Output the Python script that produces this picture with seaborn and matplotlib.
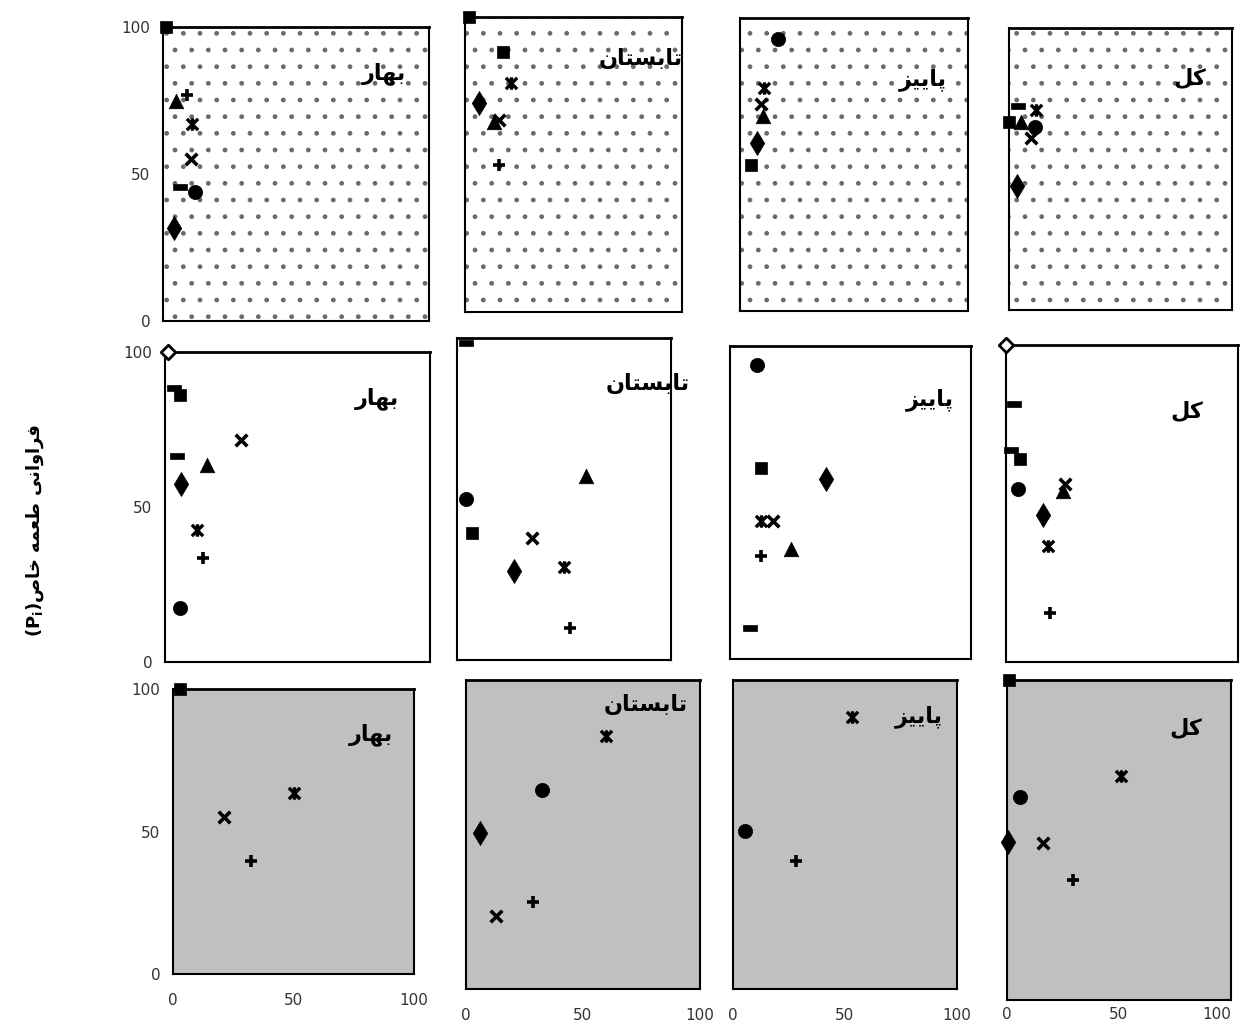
"""
Prey-frequency panels: three groups x four seasons, one marker per prey type.
"""
import pandas as pd
import seaborn as sns
from matplotlib import pyplot as plt
from matplotlib.path import Path
from matplotlib.patches import Rectangle

SEASONS = ['بهار', 'تابستان', 'پاییز', 'کل']
Y_LABEL = 'فراوانی طعمه خاص'
TICKS = [0, 50, 100]

# row 1 (dotted panels)
r1_panel = [0, 0, 0, 0, 0, 0, 0, 0,
            1, 1, 1, 1, 1, 1, 1,
            2, 2, 2, 2, 2, 2,
            3, 3, 3, 3, 3, 3, 3]
r1_series = ['corner', 'triangle', 'plus', 'star', 'cross', 'dash', 'circle', 'diamond',
             'corner', 'square', 'star', 'diamond', 'triangle', 'cross', 'plus',
             'circle', 'star', 'cross', 'triangle', 'diamond', 'square',
             'dash', 'star', 'square', 'triangle', 'circle', 'cross', 'diamond']
r1_x = [1, 5, 9, 11, 10.5, 6.5, 12, 4,
        2, 17.5, 21, 6.5, 13.5, 15.5, 15.5,
        16.5, 10.5, 9, 10, 7.5, 5,
        4, 12, 0, 5.5, 11.5, 10, 3.5]
r1_y = [100, 75, 77, 67, 55, 45.5, 44, 31.5,
        100, 88, 77.5, 71, 64.5, 65, 50,
        93, 76, 70.5, 66.5, 57.5, 50,
        72.5, 71, 66.5, 66.5, 65, 61, 44]

# row 2 (white panels)
r2_panel = [0, 0, 0, 0, 0, 0, 0, 0, 0, 0,
            1, 1, 1, 1, 1, 1, 1, 1,
            2, 2, 2, 2, 2, 2, 2, 2,
            3, 3, 3, 3, 3, 3, 3, 3, 3, 3]
r2_series = ['open', 'dash', 'square', 'cross', 'dash', 'triangle', 'diamond', 'star', 'plus', 'circle',
             'dash', 'triangle', 'circle', 'square', 'cross', 'star', 'diamond', 'plus',
             'circle', 'square', 'diamond', 'star', 'cross', 'triangle', 'plus', 'dash',
             'open', 'dash', 'dash', 'square', 'circle', 'triangle', 'cross', 'diamond', 'star', 'plus']
r2_x = [1, 3.5, 5.5, 28.5, 4.5, 16, 6, 12, 14.5, 5.5,
        4, 60.5, 4, 7, 35, 50, 26.5, 53,
        11, 13, 40, 13, 18, 25.5, 13, 8.5,
        0, 3.5, 2, 6, 5, 24.5, 25.5, 16, 18, 19]
r2_y = [100, 88.5, 86, 71.5, 66.5, 63.5, 57.5, 42.5, 33.5, 17.5,
        98.5, 57, 50, 39.5, 38, 29, 27.5, 10,
        94, 61, 57.5, 44, 44, 35, 33, 10,
        100, 81.5, 67, 64, 54.5, 54, 56, 46.5, 36.5, 15.5]

# row 3 (grey panels)
r3_panel = [0, 0, 0, 0,
            1, 1, 1, 1, 1,
            2, 2, 2,
            3, 3, 3, 3, 3, 3]
r3_series = ['corner', 'star', 'cross', 'plus',
             'star', 'circle', 'diamond', 'plus', 'cross',
             'star', 'circle', 'plus',
             'corner', 'star', 'circle', 'diamond', 'cross', 'plus']
r3_x = [3, 50, 21, 32.5,
        60, 32.5, 6, 28.5, 13,
        53, 5.5, 28,
        1, 51, 6, 0.5, 16, 29.5]
r3_y = [100, 63.5, 55, 39.5,
        82, 64.5, 50.5, 28, 23.5,
        88, 51, 41.5,
        100, 70, 63.5, 49.5, 49, 37.5]

# panel boxes in pixels: left, top, right, bottom
BOXES = [
    [(163, 27, 429, 321), (465, 17, 682, 312), (740, 18, 968, 311), (1009, 28, 1232, 310)],
    [(165, 352, 430, 662), (457, 338, 671, 660), (730, 346, 971, 659), (1006, 345, 1238, 662)],
    [(173, 689, 414, 974), (466, 680, 700, 989), (733, 680, 957, 989), (1007, 680, 1231, 1000)],
]
TITLE_POS = [
    [(0.83, 0.84), (0.81, 0.86), (0.80, 0.79), (0.81, 0.82)],
    [(0.80, 0.85), (0.89, 0.86), (0.83, 0.83), (0.78, 0.79)],
    [(0.82, 0.84), (0.77, 0.92), (0.83, 0.88), (0.80, 0.85)],
]
X_PAD = [14, 14, 14, 5]
FACES = ['white', 'white', '#c0c0c0']

# arabic presentation forms: isolated, final, initial, medial
FORMS = {
    'ا': ('\uFE8D', '\uFE8E', None, None),
    'ب': ('\uFE8F', '\uFE90', '\uFE91', '\uFE92'),
    'پ': ('\uFB56', '\uFB57', '\uFB58', '\uFB59'),
    'ت': ('\uFE95', '\uFE96', '\uFE97', '\uFE98'),
    'خ': ('\uFEA5', '\uFEA6', '\uFEA7', '\uFEA8'),
    'ر': ('\uFEAD', '\uFEAE', None, None),
    'ز': ('\uFEAF', '\uFEB0', None, None),
    'س': ('\uFEB1', '\uFEB2', '\uFEB3', '\uFEB4'),
    'ص': ('\uFEB9', '\uFEBA', '\uFEBB', '\uFEBC'),
    'ط': ('\uFEC1', '\uFEC2', '\uFEC3', '\uFEC4'),
    'ع': ('\uFEC9', '\uFECA', '\uFECB', '\uFECC'),
    'ف': ('\uFED1', '\uFED2', '\uFED3', '\uFED4'),
    'ک': ('\uFB8E', '\uFB8F', '\uFB90', '\uFB91'),
    'ل': ('\uFEDD', '\uFEDE', '\uFEDF', '\uFEE0'),
    'م': ('\uFEE1', '\uFEE2', '\uFEE3', '\uFEE4'),
    'ن': ('\uFEE5', '\uFEE6', '\uFEE7', '\uFEE8'),
    'ه': ('\uFEE9', '\uFEEA', '\uFEEB', '\uFEEC'),
    'و': ('\uFEED', '\uFEEE', None, None),
    'ی': ('\uFBFC', '\uFBFD', '\uFBFE', '\uFBFF'),
}


def shape(text: str) -> str:
    """Join persian letters and put them in visual (left to right) order."""
    out = []
    for i, ch in enumerate(text):
        if ch not in FORMS:
            out.append(ch)
            continue
        iso, fin, ini, med = FORMS[ch]
        prev = text[i - 1] if i > 0 else ''
        nxt = text[i + 1] if i + 1 < len(text) else ''
        join_prev = prev in FORMS and FORMS[prev][2] is not None
        join_next = nxt in FORMS and ini is not None
        if join_prev and join_next:
            out.append(med)
        elif join_prev:
            out.append(fin)
        elif join_next:
            out.append(ini)
        else:
            out.append(iso)
    return ''.join(reversed(out))


STAR = Path([(-1, -1), (1, 1), (-1, 1), (1, -1), (0, -1.1), (0, 1.1)],
            [Path.MOVETO, Path.LINETO, Path.MOVETO, Path.LINETO, Path.MOVETO, Path.LINETO])
DASH = Path([(-1, -0.4), (1, -0.4), (1, 0.4), (-1, 0.4), (-1, -0.4)],
            [Path.MOVETO, Path.LINETO, Path.LINETO, Path.LINETO, Path.CLOSEPOLY])

MARKERS = {
    'diamond': dict(marker='d', s=150, color='k', edgecolor='k', linewidth=0.5),
    'square': dict(marker='s', s=85, color='k', edgecolor='k', linewidth=0.5),
    'corner': dict(marker='s', s=85, color='k', edgecolor='k', linewidth=0.5),
    'triangle': dict(marker='^', s=110, color='k', edgecolor='k', linewidth=0.5),
    'cross': dict(marker='x', s=70, color='k', linewidth=2.6),
    'star': dict(marker=STAR, s=80, color='k', edgecolor='k', linewidth=2.4),
    'circle': dict(marker='o', s=105, color='k', edgecolor='k', linewidth=0.5),
    'plus': dict(marker='+', s=75, color='k', linewidth=2.6),
    'dash': dict(marker=DASH, s=95, color='k', edgecolor='k', linewidth=0.5),
    'open': dict(marker='D', s=55, color='white', edgecolor='k', linewidth=2.0),
}

rows = [
    pd.DataFrame({'panel': r1_panel, 'series': r1_series, 'x': r1_x, 'y': r1_y}),
    pd.DataFrame({'panel': r2_panel, 'series': r2_series, 'x': r2_x, 'y': r2_y}),
    pd.DataFrame({'panel': r3_panel, 'series': r3_series, 'x': r3_x, 'y': r3_y}),
]

sns.set_style('white')
plt.rcParams['font.family'] = ['DejaVu Sans']
plt.rcParams['text.color'] = 'black'

W, H = 1242, 1030
fig = plt.figure(figsize=(W / 100, H / 100), dpi=100)

for r, df in enumerate(rows):
    for c in range(4):
        left, top, right, bottom = BOXES[r][c]
        ax = fig.add_axes([left / W, 1 - bottom / H, (right - left) / W, (bottom - top) / H])
        ax.set_facecolor(FACES[r])
        if r == 0:
            ax.add_patch(Rectangle((0, 0), 1, 1, transform=ax.transAxes, facecolor='none',
                                   edgecolor='#6a6a6a', hatch='.', linewidth=0, zorder=0))
        sub = df[df['panel'] == c]
        for name, grp in sub.groupby('series', sort=False):
            sns.scatterplot(data=grp, x='x', y='y', ax=ax, legend=False,
                            clip_on=False, zorder=3, **MARKERS[name])
        ax.set_xlim(0, 100)
        ax.set_ylim(0, 100)
        ax.set_xlabel('')
        ax.set_ylabel('')
        ax.set_xticks(TICKS)
        ax.set_yticks(TICKS)
        ax.tick_params(length=0, labelsize=11, colors='#333333')
        ax.tick_params(axis='x', pad=X_PAD[c])
        ax.tick_params(axis='y', pad=9)
        ax.tick_params(labelleft=(c == 0), labelbottom=(r == 2))
        if r == 2 and c == 3:
            # last label sits at the figure edge
            ax.get_xticklabels()[-1].set_horizontalalignment('right')
        for sp in ax.spines.values():
            sp.set_color('black')
            sp.set_linewidth(1.5)
        ax.spines['top'].set_linewidth(2)
        tx, ty = TITLE_POS[r][c]
        ax.text(tx, ty, shape(SEASONS[c]), transform=ax.transAxes, ha='center',
                va='center', fontsize=16, fontweight='bold', zorder=4)

fig.text(35 / W, 1 - 530 / H, '(P$_\\mathbf{i}$)' + shape(Y_LABEL), rotation=90,
         ha='center', va='center', fontsize=13, fontweight='bold')

fig.savefig('out.png', dpi=100)
